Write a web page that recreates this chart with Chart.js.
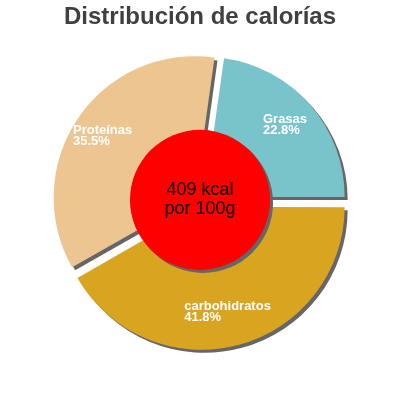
<!DOCTYPE html>
<html>
<head>
<meta charset="utf-8">
<script src="https://cdn.jsdelivr.net/npm/chart.js@4"></script>
<style>
  html, body { margin: 0; padding: 0; background: #fff; }
  #wrap { width: 400px; height: 400px; }
</style>
</head>
<body>
<div id="wrap"><canvas id="chart"></canvas></div>
<script>
// data
const categories = ['Grasas', 'carbohidratos', 'Proteínas'];
const percents = [22.8, 41.8, 35.5];
const sliceColors = ['#79c3cb', '#d9a521', '#edc591'];
const centerLines = ['409 kcal', 'por 100g'];

const shadow = (ctx) => {
    ctx.shadowColor = '#666666';
    ctx.shadowOffsetX = 3;
    ctx.shadowOffsetY = 3;
    ctx.shadowBlur = 0;
};

const shadowPlugin = {
    id: 'sliceShadow',
    beforeDatasetDraw(chart) {
        chart.ctx.save();
        shadow(chart.ctx);
    },
    afterDatasetDraw(chart) {
        chart.ctx.restore();
    }
};

const overlayPlugin = {
    id: 'overlay',
    afterDatasetsDraw(chart) {
        const ctx = chart.ctx;
        const arcs = chart.getDatasetMeta(0).data;
        // chart.js moves an exploded slice by offset / 4
        const shift = chart.data.datasets[0].offset / 4;

        // slice labels
        ctx.save();
        ctx.fillStyle = '#ffffff';
        ctx.font = 'bold 13px "Liberation Sans", Arial, sans-serif';
        ctx.textBaseline = 'middle';
        ctx.textAlign = 'left';
        arcs.forEach((arc, i) => {
            const p = arc.getProps(['x', 'y', 'startAngle', 'endAngle', 'outerRadius'], true);
            const mid = (p.startAngle + p.endAngle) / 2;
            const r = p.outerRadius * 0.78 + shift;
            const px = p.x + Math.cos(mid) * r;
            const py = p.y + Math.sin(mid) * r;
            const lines = [categories[i], percents[i].toFixed(1) + '%'];
            const w = Math.max(...lines.map(t => ctx.measureText(t).width));
            ctx.fillText(lines[0], px - w / 2 - 2, py - 5.5);
            ctx.fillText(lines[1], px - w / 2 - 2, py + 5.5);
        });
        ctx.restore();

        // red centre disc
        const a = arcs[0].getProps(['x', 'y', 'outerRadius'], true);
        ctx.save();
        shadow(ctx);
        ctx.fillStyle = '#ff0000';
        ctx.beginPath();
        ctx.arc(a.x, a.y - 1, a.outerRadius * 0.5, 0, Math.PI * 2);
        ctx.fill();
        ctx.restore();

        ctx.save();
        ctx.fillStyle = '#000000';
        ctx.font = '18px "Liberation Sans", Arial, sans-serif';
        ctx.textAlign = 'center';
        ctx.textBaseline = 'middle';
        ctx.fillText(centerLines[0], a.x, a.y - 11);
        ctx.fillText(centerLines[1], a.x, a.y + 8);
        ctx.restore();
    }
};

new Chart(document.getElementById('chart'), {
    type: 'pie',
    data: {
        labels: categories,
        datasets: [{
            data: percents,
            backgroundColor: sliceColors,
            borderWidth: 0,
            offset: 24
        }]
    },
    options: {
        responsive: true,
        maintainAspectRatio: false,
        animation: false,
        rotation: 8,
        layout: {
            padding: { top: 0, bottom: 47, left: 0, right: 0 }
        },
        plugins: {
            legend: { display: false },
            tooltip: { enabled: false },
            title: {
                display: true,
                text: 'Distribución de calorías',
                color: '#404040',
                font: { family: '"Liberation Sans", Arial, sans-serif', size: 24, weight: 'bold', lineHeight: 1.2 },
                padding: { top: 3, bottom: 17 }
            }
        }
    },
    plugins: [shadowPlugin, overlayPlugin]
});
</script>
</body>
</html>
